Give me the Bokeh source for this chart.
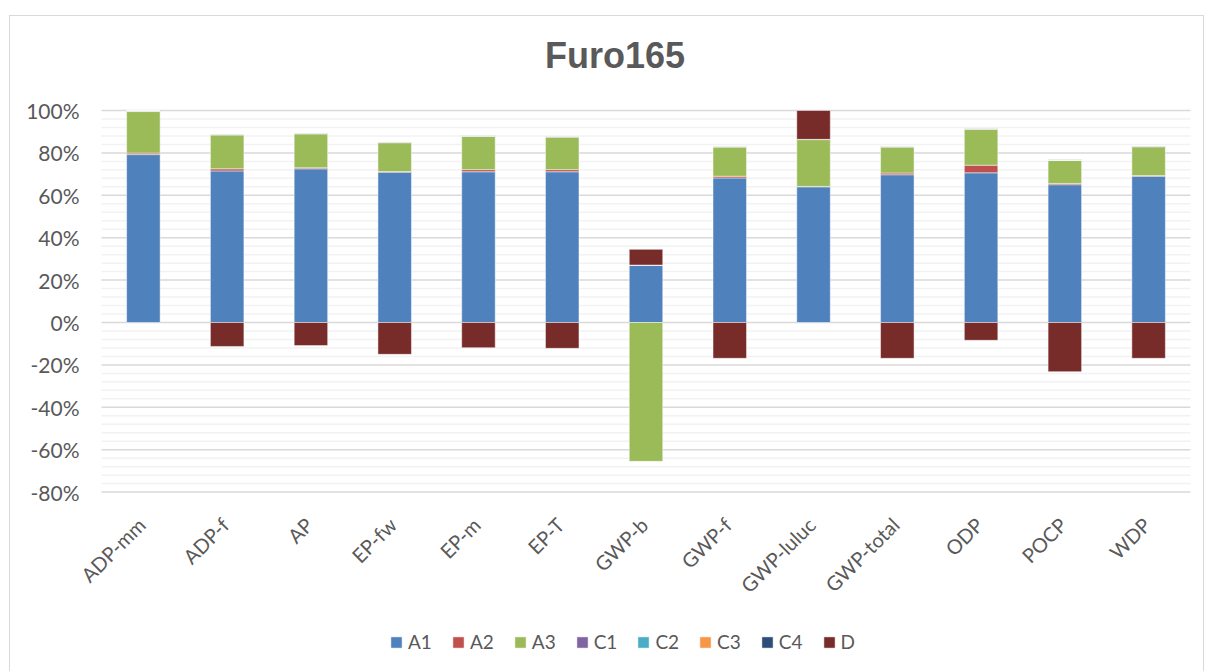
from math import pi
from bokeh.plotting import figure
from bokeh.models import Range1d, Legend, LegendItem, ColumnDataSource
from bokeh.core.properties import value
from bokeh.embed import file_html
from bokeh.resources import INLINE

# ---------------- data (percent of total absolute contribution) ----------------
categories = ["ADP-mm", "ADP-f", "AP", "EP-fw", "EP-m", "EP-T", "GWP-b",
              "GWP-f", "GWP-luluc", "GWP-total", "ODP", "POCP", "WDP"]
series_names = ["A1", "A2", "A3", "C1", "C2", "C3", "C4", "D"]

A1 = [79.2, 71.5, 72.5, 70.9, 71.1, 71.1, 26.9, 68.2, 64.0, 69.7, 70.6, 65.0, 69.0]
A2 = [0.7, 1.0, 0.5, 0.3, 1.0, 1.0, 0.1, 0.8, 0.2, 0.8, 3.6, 0.6, 0.3]
A3 = [19.6, 16.0, 16.0, 13.6, 15.8, 15.4, -65.5, 13.8, 22.1, 12.3, 17.0, 10.8, 13.6]
C1 = [0.1, 0.1, 0.1, 0.1, 0.1, 0.1, 0.0, 0.1, 0.0, 0.1, 0.1, 0.1, 0.1]
C2 = [0.1, 0.1, 0.1, 0.1, 0.1, 0.1, 0.0, 0.1, 0.0, 0.1, 0.1, 0.1, 0.1]
C3 = [0.0, 0.0, 0.0, 0.0, 0.0, 0.0, 0.0, 0.0, 0.0, 0.0, 0.1, 0.1, 0.0]
C4 = [0.1, 0.1, 0.1, 0.1, 0.1, 0.1, 0.1, 0.1, 0.1, 0.1, 0.1, 0.1, 0.1]
D = [0.0, -11.3, -10.9, -15.0, -11.9, -12.2, 7.4, -16.9, 13.6, -16.9, -8.4, -23.2, -16.9]

series_values = [A1, A2, A3, C1, C2, C3, C4, D]
series_colors = ["#4F81BD", "#C0504D", "#9BBB59", "#8064A2",
                 "#4BACC6", "#F79646", "#2C4D75", "#772C2A"]

y_tick_values = [-0.8, -0.6, -0.4, -0.2, 0.0, 0.2, 0.4, 0.6, 0.8, 1.0]
y_tick_labels = ["-80%", "-60%", "-40%", "-20%", "0%", "20%", "40%", "60%", "80%", "100%"]
minor_per_major = 5
title_text = "Furo165"

TEXT = "#595959"
FONT = "Lato"

# ---------------- layout (pixels) ----------------
n = len(categories)
CANVAS_W, CANVAS_H = 1193, 662
PLOT_LEFT_PX, PLOT_W_PX = 91, 1089      # category band inside the canvas
PLOT_TOP_PX = 94                        # 100% line from canvas top
PX_PER_UNIT = 212.0                     # px per 100%
px_per_cat = PLOT_W_PX / n

x_lo = -PLOT_LEFT_PX / px_per_cat
x_hi = x_lo + CANVAS_W / px_per_cat
y_max, y_min = max(y_tick_values), min(y_tick_values)
y_hi = y_max + PLOT_TOP_PX / PX_PER_UNIT
y_lo = y_hi - CANVAS_H / PX_PER_UNIT

p = figure(x_range=Range1d(x_lo, x_hi), y_range=Range1d(y_lo, y_hi),
           frame_width=CANVAS_W, frame_height=CANVAS_H, output_backend="svg",
           toolbar_location=None, x_axis_type=None, y_axis_type=None,
           min_border=0, margin=(15, 0, 0, 9))
p.styles = {"border": "1px solid #d9d9d9"}
p.outline_line_color = None
p.background_fill_color = "white"
p.border_fill_color = "white"

# gridlines (minor then major), spanning the category band
step = (y_tick_values[1] - y_tick_values[0]) / minor_per_major
minor_y = []
for t in y_tick_values[:-1]:
    for k in range(1, minor_per_major):
        minor_y.append(t + k * step)
p.segment(x0=[0] * len(minor_y), x1=[n] * len(minor_y), y0=minor_y, y1=minor_y,
          line_color="#f2f2f2", line_width=1.5)
p.segment(x0=[0] * len(y_tick_values), x1=[n] * len(y_tick_values),
          y0=y_tick_values, y1=y_tick_values, line_color="#d9d9d9", line_width=1.5)

# y tick labels
p.text(x=[0] * len(y_tick_values), y=y_tick_values, text=y_tick_labels,
       x_offset=-22, text_align="right", text_baseline="middle",
       text_font=value(FONT), text_font_size="21px", text_color=TEXT)

# stacked bars: positives stack up, negatives stack down (like Excel)
xpos = [i + 0.5 for i in range(n)]
pos = [0.0] * n
neg = [0.0] * n
legend_items = []
for name, vals, col in zip(series_names, series_values, series_colors):
    bottoms, tops = [], []
    for i, v in enumerate(vals):
        f = v / 100.0
        if f >= 0:
            bottoms.append(pos[i]); tops.append(pos[i] + f); pos[i] += f
        else:
            bottoms.append(neg[i]); tops.append(neg[i] + f); neg[i] += f
    src = ColumnDataSource(dict(x=xpos, bottom=bottoms, top=tops))
    r = p.vbar(x="x", bottom="bottom", top="top", width=0.4, source=src,
               fill_color=col, line_color="white", line_alpha=0.6, line_width=0.8)
    legend_items.append(LegendItem(label=name, renderers=[r]))

# category labels, rotated 45 degrees under the -80% line
label_y = y_min - 29 / PX_PER_UNIT
p.text(x=xpos, y=[label_y] * n, text=categories, angle=pi / 4,
       x_offset=-2, text_align="right", text_baseline="middle",
       text_font=value(FONT), text_font_size="20px", text_color=TEXT)

# title
p.text(x=[n / 2], y=[y_max + 55 / PX_PER_UNIT], text=[title_text], x_offset=-31,
       text_align="center", text_baseline="middle",
       text_font=value("Liberation Sans"), text_font_style="bold",
       text_font_size="36px", text_color=TEXT)

legend = Legend(items=legend_items, orientation="horizontal", location=(379, 25),
                border_line_color=None, background_fill_alpha=0,
                label_text_font=FONT, label_text_font_size="19px", label_text_color=TEXT,
                glyph_width=14, glyph_height=14, label_standoff=5, spacing=19,
                padding=0, margin=0)
p.add_layout(legend, "center")

open("out.html", "w").write(file_html(p, INLINE))
